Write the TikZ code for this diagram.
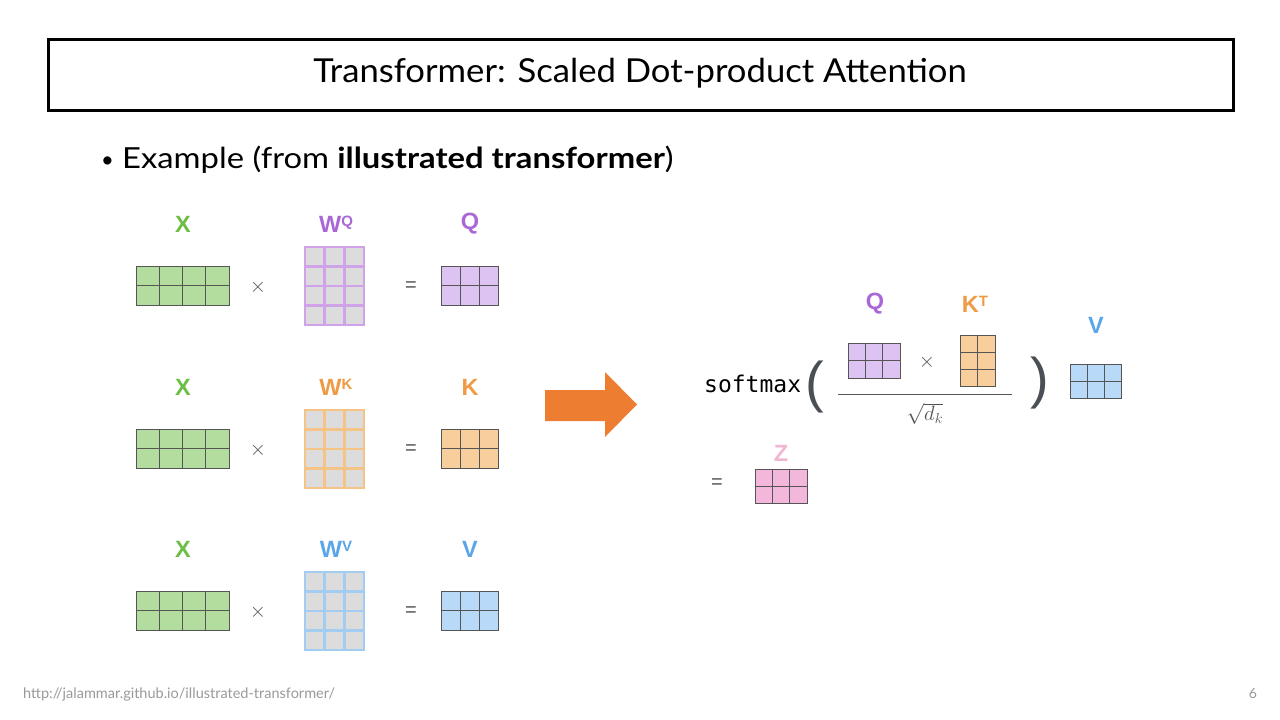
\documentclass[tikz,border=0pt]{standalone}
\usepackage{fontspec}
\setmainfont{Lato}
\newfontfamily\lblfont{Liberation Sans}
\newfontfamily\monofont{DejaVu Sans Mono}
\usetikzlibrary{calc}
\definecolor{xgreen}{HTML}{6DBE45}
\definecolor{xgreenfill}{HTML}{B3DD9E}
\definecolor{qpurple}{HTML}{A968D6}
\definecolor{qfill}{HTML}{DCC3F2}
\definecolor{qline}{HTML}{CFA2EA}
\definecolor{korange}{HTML}{EF9A45}
\definecolor{kfill}{HTML}{F8CF9C}
\definecolor{kline}{HTML}{F5C385}
\definecolor{vblue}{HTML}{5BA6E8}
\definecolor{vfill}{HTML}{B9D9F9}
\definecolor{vline}{HTML}{A3CCF2}
\definecolor{zpink}{HTML}{F1B6D2}
\definecolor{zfill}{HTML}{F3B7DB}
\definecolor{wgray}{HTML}{DCDCDC}
\definecolor{gridgray}{HTML}{555555}
\definecolor{parengray}{HTML}{4A4F55}
\definecolor{arroworange}{HTML}{ED7D31}
\definecolor{footgray}{HTML}{9A9A9A}
\tikzset{
  mlabel/.style={font=\lblfont\bfseries\fontsize{23.5}{23.5}\selectfont, inner sep=0pt},
  opsym/.style={font=\lblfont\fontsize{20}{20}\selectfont, text=gridgray, inner sep=0pt},
  cellbox/.style={draw=gridgray, line width=0.9pt, inner sep=0pt, outer sep=0pt, anchor=north west},
  wbox/.style={fill=wgray, line width=2.6pt, inner sep=0pt, outer sep=0pt, anchor=north west},
  paren/.style={font=\lblfont\fontsize{56}{56}\selectfont, text=parengray, inner sep=0pt},
}
\newcommand\supr[1]{\raisebox{6.3pt}{\fontsize{15}{15}\selectfont #1}}
% #1 name, #2 x, #3 y, #4 cols, #5 rows, #6 cw, #7 ch, #8 fill, #9 line style
\newcommand\mtx[9]{%
  \node[#9, fill=#8, minimum width={#4*#6}, minimum height={#5*#7}] (#1) at (#2,#3) {};
  \pgfmathtruncatemacro\mc{#4-1}
  \pgfmathtruncatemacro\mr{#5-1}
  \foreach \i in {1,...,\mc}{\draw[#9] ($(#1.north west)+(\i*#6,0)$) -- ($(#1.south west)+(\i*#6,0)$);}
  \foreach \j in {1,...,\mr}{\draw[#9] ($(#1.north west)+(0,\j*#7)$) -- ($(#1.north east)+(0,\j*#7)$);}
}
\begin{document}
\begin{tikzpicture}[x=1pt,y=-1pt]
\useasboundingbox[fill=white] (0,0) rectangle (1280,720);
% title
\node[draw=black, line width=2.5pt, minimum width=1185, minimum height=71, inner sep=0pt, anchor=north west] (title) at (47,38) {};
\node[font=\fontsize{33}{33}\selectfont] (titletext) at (640,73) {\scalebox{1.05}[1]{Transformer: Scaled Dot-product Attention}};
% bullet
\node[font=\fontsize{22}{22}\selectfont, anchor=base west, inner sep=0pt] (bullet) at (101,167) {\textbullet};
\node[font=\fontsize{29}{29}\selectfont, anchor=base west, inner sep=0pt] (example) at (122,168) {\scalebox{1.13}[1]{Example (from \textbf{illustrated transformer})}};
% rows
\foreach \dy/\W/\sup/\wl/\col/\fillc/\res in {0/q/Q/qline/qpurple/qfill/Q, 163/k/K/kline/korange/kfill/K, 325/v/V/vline/vblue/vfill/V}{
  \node[mlabel, text=xgreen] (xl\W) at (183,224+\dy) {X};
  \mtx{x\W}{136}{266+\dy}{4}{2}{23.25}{19.5}{xgreenfill}{cellbox}
  \node[opsym] (times\W) at (258,287+\dy) {$\times$};
  \node[mlabel, text=\col] (wl\W) at (336,224+\dy) {W\supr{\sup}};
  \mtx{w\W}{305}{247+\dy}{3}{4}{19.67}{19.5}{wgray}{wbox,draw=\wl}
  \node[opsym] (eq\W) at (411,287+\dy) {=};
  \node[mlabel, text=\col] (rl\W) at (470,224+\dy) {\res};
  \mtx{r\W}{441}{266+\dy}{3}{2}{19}{19.5}{\fillc}{cellbox}
}
% big arrow
\fill[arroworange] (545,390) -- (605,390) -- (605,372) -- (637,404.5) -- (605,437) -- (605,421) -- (545,421) -- cycle;
% softmax expression
\node[font=\monofont\fontsize{23}{23}\selectfont, anchor=base west, inner sep=0pt] (softmax) at (704,392) {softmax};
\node[paren] (lparen) at (815,387) {(};
\node[paren] (rparen) at (1040,383) {)};
\node[mlabel, text=qpurple] (qlab) at (875,304) {Q};
\mtx{qm}{848}{343}{3}{2}{17.33}{17.5}{qfill}{cellbox}
\node[opsym] (times2) at (927,362) {$\times$};
\node[mlabel, text=korange] (klab) at (975,304) {K\supr{T}};
\mtx{km}{960}{335}{2}{3}{17.5}{17}{kfill}{cellbox}
\draw[gridgray, line width=1pt] (838,394) -- (1012,394);
\node[text=gridgray, font=\fontsize{20}{20}\selectfont] (sqrt) at (925,414) {$\sqrt{d_k}$};
\node[mlabel, text=vblue] (vlab) at (1096,325) {V};
\mtx{vm}{1070}{364}{3}{2}{17}{17}{vfill}{cellbox}
\node[opsym] (eq2) at (717,484) {=};
\node[mlabel, text=zpink] (zlab) at (781,453) {Z};
\mtx{zm}{755}{469}{3}{2}{17.33}{17}{zfill}{cellbox}
% footer
\node[font=\fontsize{14.5}{14.5}\selectfont, text=footgray, anchor=west, inner sep=0pt] (url) at (23,694) {http://jalammar.github.io/illustrated-transformer/};
\node[font=\fontsize{14}{14}\selectfont, text=footgray, inner sep=0pt] (page) at (1253,694) {6};
\end{tikzpicture}
\end{document}
